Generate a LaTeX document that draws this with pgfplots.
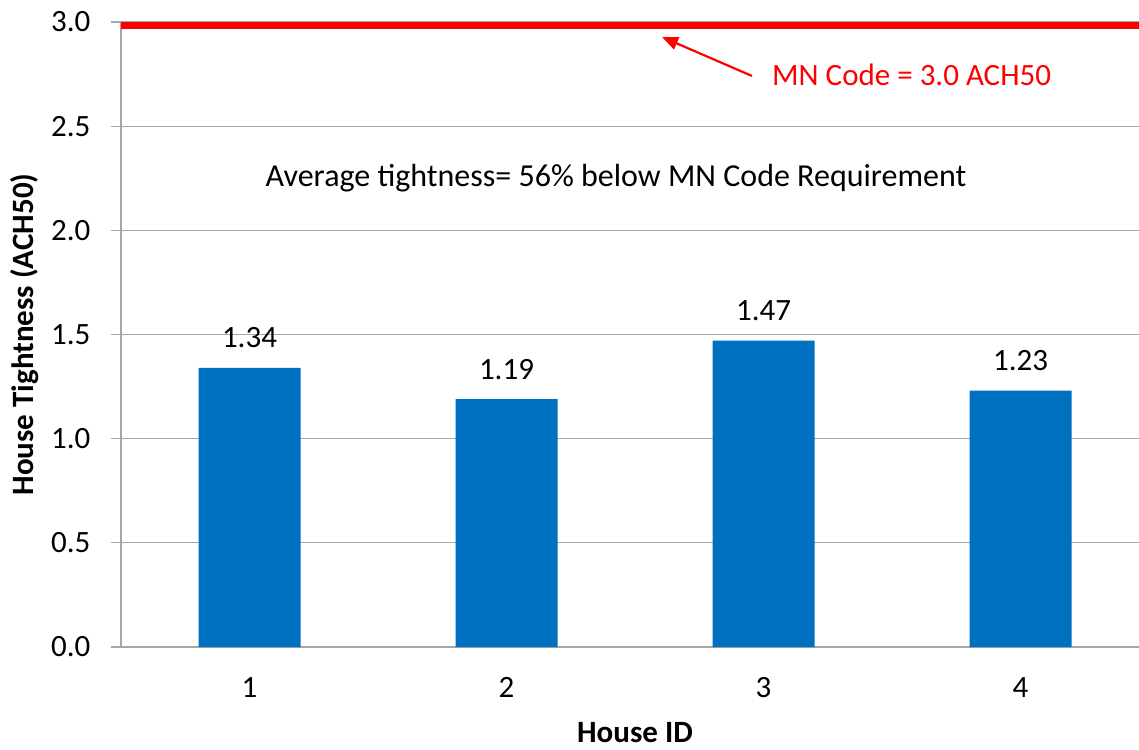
\documentclass[border=0pt]{standalone}
\usepackage{fontspec}
\setmainfont{Carlito}
\usepackage{pgfplots}
\pgfplotsset{compat=1.18}
\usetikzlibrary{calc,arrows.meta}
\definecolor{barblue}{HTML}{0070C0}
\definecolor{gridgray}{HTML}{A6A6A6}
\begin{document}
\begin{tikzpicture}
\begin{axis}[
  name=ax,
  scale only axis,
  width=1018pt, height=625pt,
  xmin=0.5, xmax=4.461,
  ymin=0, ymax=3,
  axis x line*=bottom, axis y line*=left,
  axis line style={draw=gridgray, line width=1.3pt},
  /pgf/number format/assume math mode=true,
  font=\fontsize{31}{37}\selectfont,
  tick label style={font=\fontsize{31}{37}\selectfont, text=black},
  ytick={0,0.5,1,1.5,2,2.5,3},
  yticklabel style={xshift=-17pt, /pgf/number format/fixed, /pgf/number format/fixed zerofill, /pgf/number format/precision=1},
  ymajorgrids, grid style={draw=gridgray, line width=1.3pt},
  tick align=outside,
  major tick length=10pt,
  tick style={draw=gridgray, line width=1.3pt},
  xtick={1,2,3,4},
  x tick style={draw=none},
  extra x ticks={0.5,1.5,2.5,3.5},
  extra x tick labels={},
  extra x tick style={grid=none, tick style={draw=gridgray, line width=1.3pt}, major tick length=10pt},
  xticklabel style={yshift=-17pt},
  xlabel={\bfseries House ID},
  xlabel style={at={(axis description cs:0.5,0)}, anchor=center, yshift=-86pt, xshift=5pt},
  ylabel={\bfseries House Tightness (ACH50)},
  ylabel style={at={(axis description cs:0,0.5)}, anchor=center, yshift=96pt},
]
\addplot[ybar, bar width=102pt, fill=barblue, draw=none,
  nodes near coords,
  nodes near coords style={font=\fontsize{31}{37}\selectfont, text=black, anchor=base, yshift=20pt,
    /pgf/number format/fixed, /pgf/number format/fixed zerofill, /pgf/number format/precision=2}]
  coordinates {(1,1.34) (2,1.19) (3,1.47) (4,1.23)};
\addplot[red, line width=7pt, forget plot] coordinates {(0.5,2.984) (4.461,2.984)};
\draw[red, line width=2.2pt, -{Triangle[length=16pt,width=13pt]}] (axis cs:2.955,2.741) -- (axis cs:2.605,2.928);
\node[red, anchor=west, inner sep=0pt] at (axis cs:3.033,2.746) {MN Code = 3.0 ACH50};
\node[anchor=center, inner sep=0pt, font=\fontsize{32}{38}\selectfont] at (axis cs:2.426,2.251) {Average tightness= 56\% below MN Code Requirement};
\end{axis}
\pgfresetboundingbox
\path ($(ax.south west)+(-121pt,-102pt)$) rectangle ($(ax.north east)+(0pt,22pt)$);
\end{tikzpicture}
\end{document}
